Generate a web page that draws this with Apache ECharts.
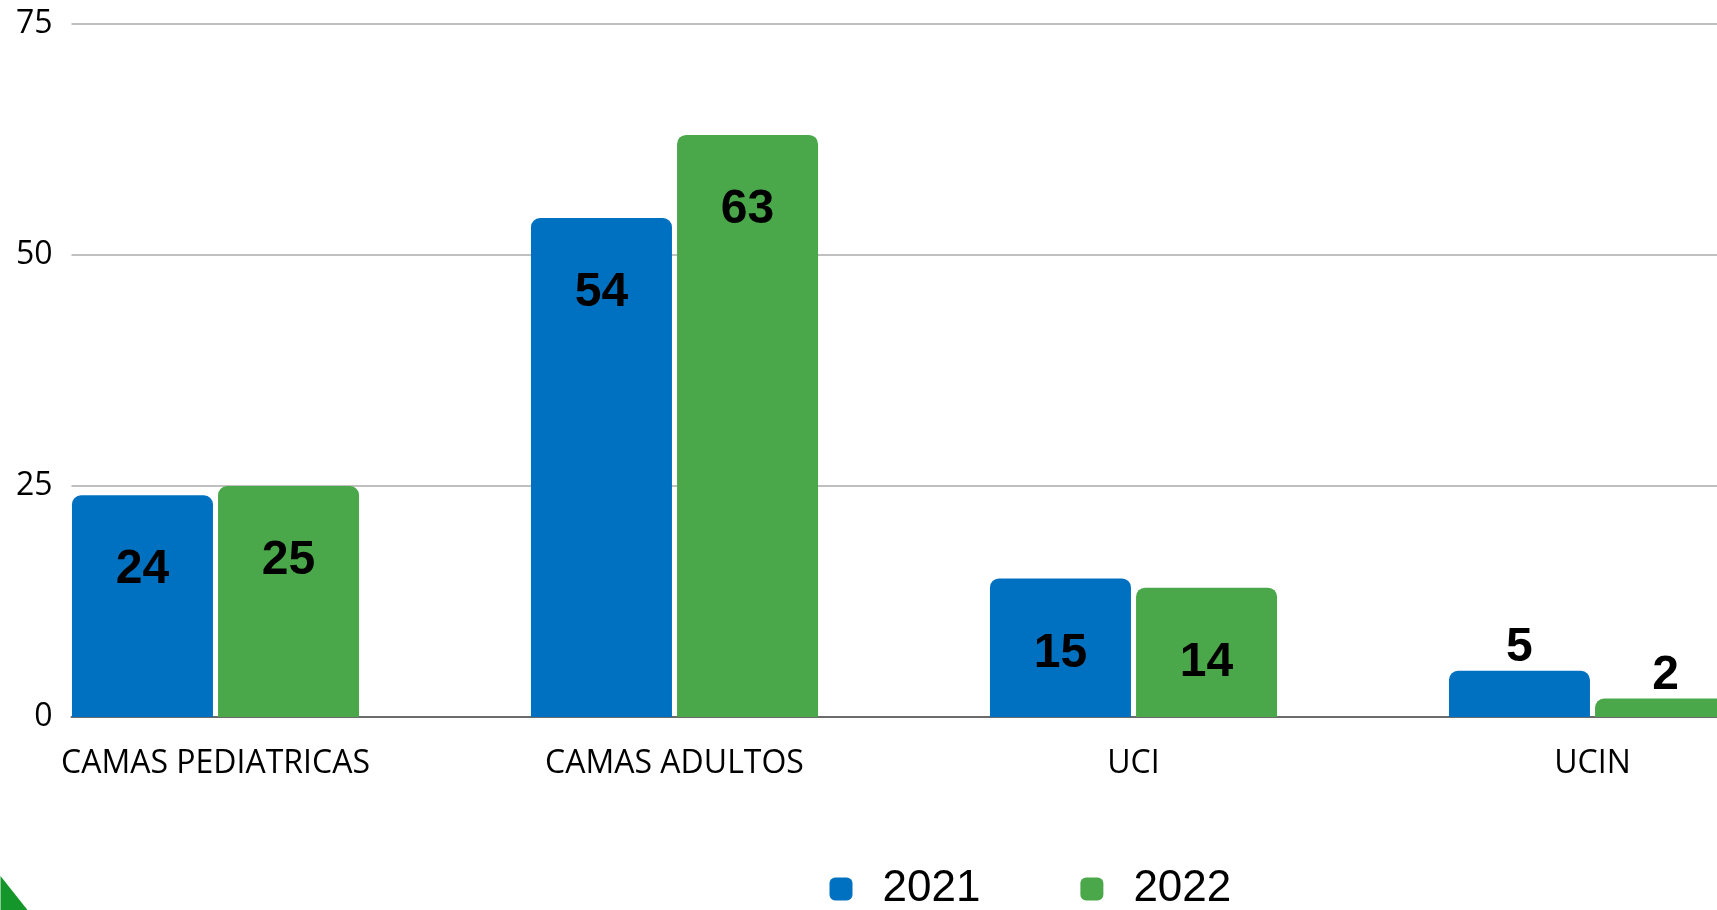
<!DOCTYPE html>
<html>
<head>
<meta charset="utf-8">
<script src="https://cdn.jsdelivr.net/npm/echarts@6/dist/echarts.min.js"></script>
<style>
  html, body { margin: 0; padding: 0; background: #fff; overflow: hidden; }
  /* la figura original esta recortada: el lienzo es mas ancho que la ventana */
  #chart { position: absolute; left: -14.5px; top: 0; width: 1836px; height: 910px; }
</style>
</head>
<body>
<div id="chart"></div>
<script>
// categorias y valores
const categorias = ['CAMAS PEDIATRICAS', 'CAMAS ADULTOS', 'UCI', 'UCIN']
const serie2021 = [24, 54, 15, 5]
const serie2022 = [25, 63, 14, 2]
const yMin = 0
const yMax = 75
const yStep = 25

const azul = '#0070c0'
const verde = '#4aa84a'

// etiqueta dentro de la barra si cabe, si no encima
function barData(values) {
    return values.map(v => v >= 10 ? v : {
        value: v,
        label: { position: 'top', distance: -1 }
    })
}

function barSerie(name, values, color) {
    return {
        name: name,
        type: 'bar',
        xAxisIndex: 1,
        yAxisIndex: 1,
        data: barData(values),
        barWidth: 141,
        barGap: '3.6%',
        itemStyle: { color: color, borderRadius: [9, 9, 0, 0] },
        label: {
            show: true,
            position: 'insideTop',
            distance: 51,
            color: '#000',
            fontFamily: 'Liberation Sans',
            fontWeight: 'bold',
            fontSize: 48
        }
    }
}

let option = {
    animation: false,
    backgroundColor: '#fff',
    grid: [
        // marco con lineas de cuadricula
        { left: 85.5, right: 0, top: 24, bottom: 193 },
        // barras
        { left: 0, right: 0, top: 24, bottom: 193 }
    ],
    xAxis: [
        {
            gridIndex: 0,
            type: 'category',
            data: [''],
            axisLine: { show: true, lineStyle: { color: '#6b6b6b', width: 2 } },
            axisTick: { show: false },
            axisLabel: { show: false }
        },
        {
            gridIndex: 1,
            type: 'category',
            data: categorias,
            axisLine: { show: false },
            axisTick: { show: false },
            axisLabel: {
                margin: 31,
                color: '#000',
                fontFamily: 'Open Sans',
                fontSize: 32
            }
        }
    ],
    yAxis: [
        {
            gridIndex: 0,
            type: 'value',
            min: yMin,
            max: yMax,
            interval: yStep,
            axisLine: { show: false },
            axisTick: { show: false },
            splitLine: { lineStyle: { color: '#c0c0c0', width: 2 } },
            axisLabel: {
                margin: 19,
                color: '#000',
                fontFamily: 'Open Sans',
                fontSize: 32,
                verticalAlign: 'middle',
                padding: [7, 0, 0, 0]
            }
        },
        {
            gridIndex: 1,
            type: 'value',
            min: yMin,
            max: yMax,
            interval: yStep,
            show: false
        }
    ],
    legend: {
        data: ['2021', '2022'],
        left: 843.5,
        top: 867,
        padding: 0,
        icon: 'roundRect',
        itemWidth: 23,
        itemHeight: 23,
        itemGap: 100,
        textStyle: {
            color: '#000',
            fontFamily: 'Liberation Sans',
            fontSize: 44,
            padding: [0, 0, 0, 25]
        }
    },
    graphic: [
        {
            type: 'polygon',
            silent: true,
            shape: { points: [[14.5, 876], [41.5, 910], [14.5, 910]] },
            style: { fill: '#14962a' }
        }
    ],
    series: [
        barSerie('2021', serie2021, azul),
        barSerie('2022', serie2022, verde)
    ]
}

let myChart = echarts.init(document.getElementById('chart'))
myChart.setOption(option)
window.addEventListener('resize', function () {
    myChart.resize()
})
</script>
</body>
</html>
